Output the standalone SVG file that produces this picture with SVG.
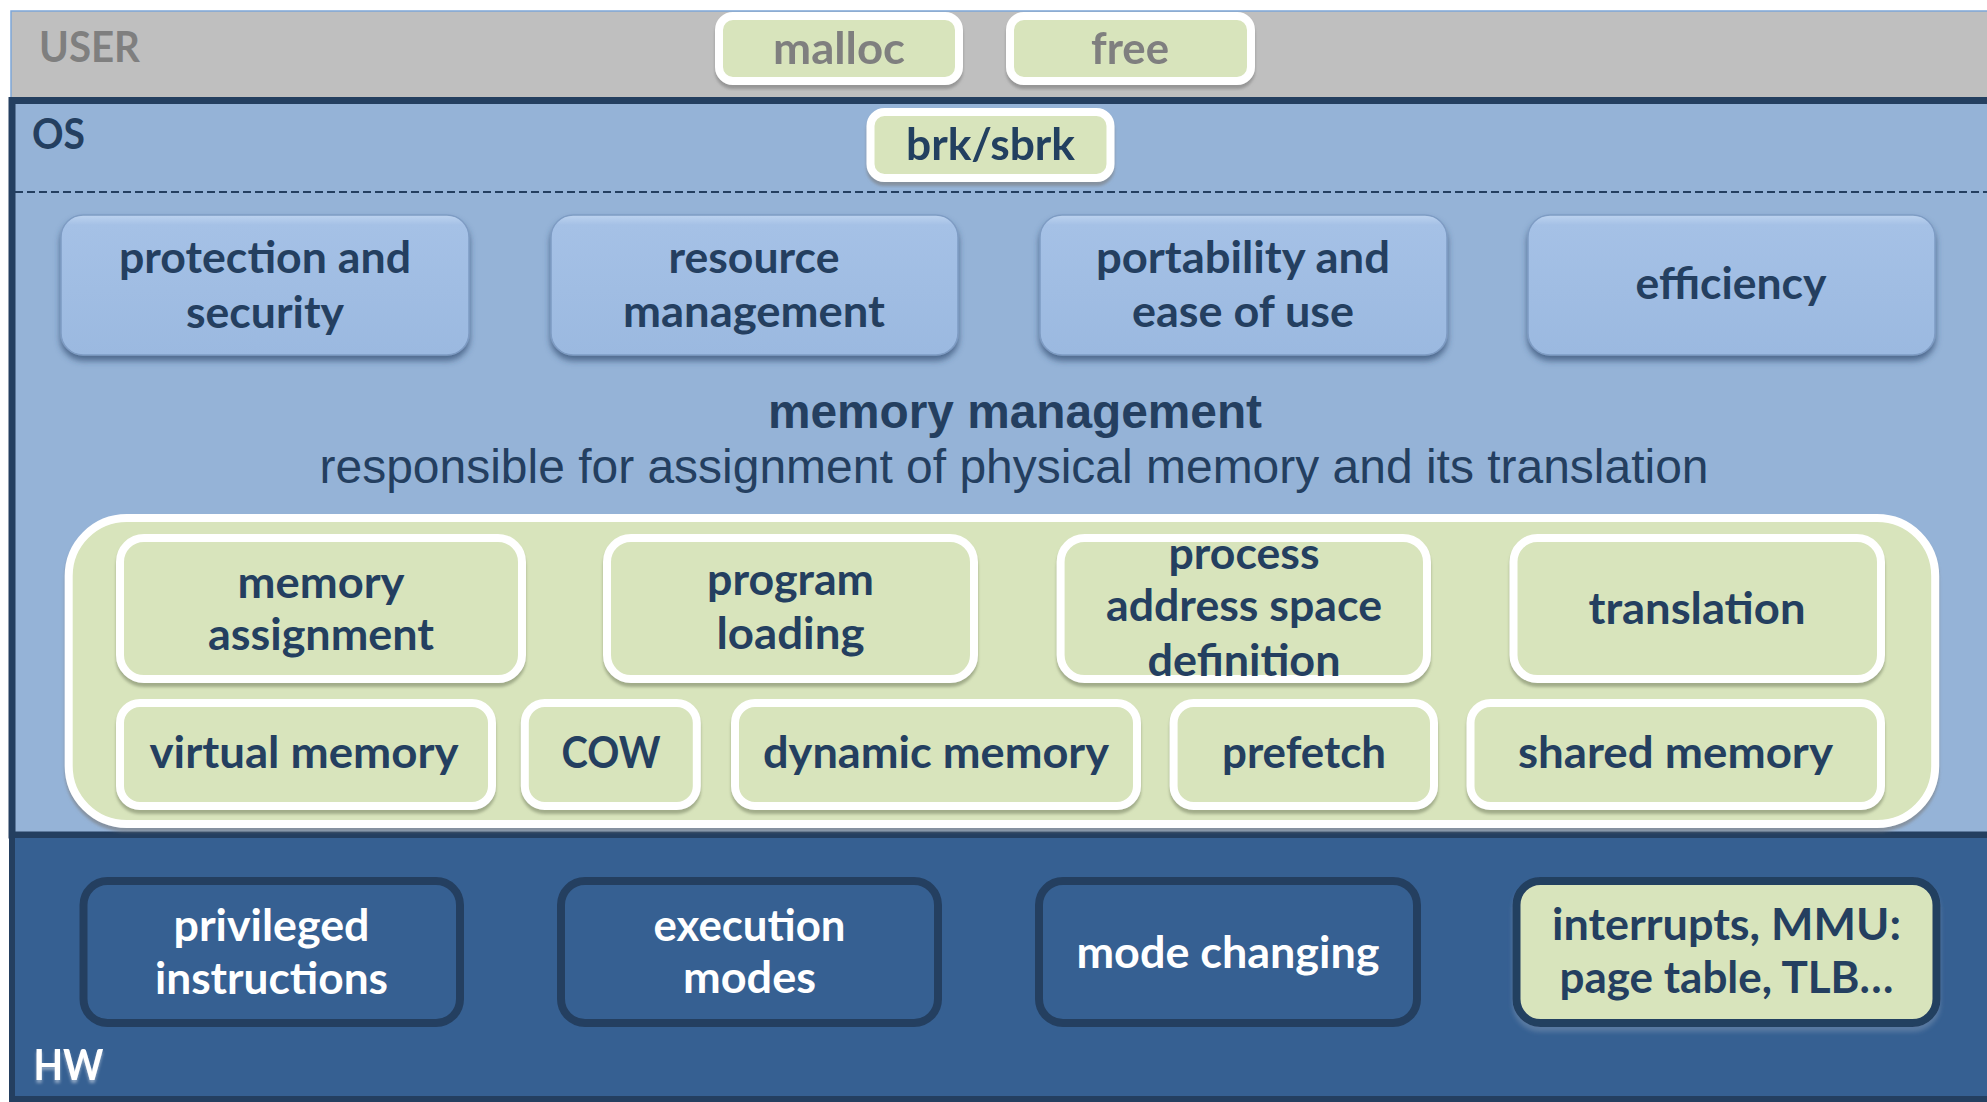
<svg xmlns="http://www.w3.org/2000/svg" width="1987" height="1102" viewBox="0 0 1987 1102">
<defs>
<style>
.b{font-family:Lato,"Open Sans","DejaVu Sans",sans-serif;font-weight:700;font-size:43.5px;text-anchor:middle}
.dk{fill:#243F60}
.gy{fill:#7F7F7F}
.wt{fill:#FFFFFF}
.lbl{font-family:Lato,"Open Sans",sans-serif;font-weight:700;font-size:42.5px}
.ar{font-family:"Liberation Sans",Arial,sans-serif;font-size:48px;text-anchor:middle;fill:#243F60}
.gbox{fill:#D8E4BC;stroke:#FFFFFF;stroke-width:8}
.bbox{fill:url(#bg);stroke:#7E9CC4;stroke-width:1.5}
.hbox{fill:#366092;stroke:#243F60;stroke-width:8}
</style>
<linearGradient id="bg" x1="0" y1="0" x2="0" y2="1">
<stop offset="0" stop-color="#BDD3EF"/>
<stop offset="0.07" stop-color="#A5C1E6"/>
<stop offset="1" stop-color="#9BB9E0"/>
</linearGradient>
<filter id="shG" x="-5%" y="-10%" width="110%" height="125%">
<feDropShadow dx="0" dy="4" stdDeviation="1.5" flood-color="#8E9978" flood-opacity="0.75"/>
</filter>
<filter id="shW" x="-5%" y="-10%" width="110%" height="125%">
<feDropShadow dx="0" dy="4" stdDeviation="1.5" flood-color="#7A7A7A" flood-opacity="0.6"/>
</filter>
<filter id="shB" x="-5%" y="-10%" width="110%" height="130%">
<feDropShadow dx="0" dy="5" stdDeviation="3" flood-color="#2E4A6E" flood-opacity="0.7"/>
</filter>
<filter id="shH" x="-5%" y="-10%" width="110%" height="125%">
<feDropShadow dx="0" dy="5" stdDeviation="2" flood-color="#5C7CA3" flood-opacity="0.9"/>
</filter>
<filter id="shT" x="-10%" y="-10%" width="130%" height="140%">
<feDropShadow dx="0" dy="3" stdDeviation="1.5" flood-color="#A0B4CC" flood-opacity="0.8"/>
</filter>
</defs>

<g id="layer-user">
<rect x="11" y="11" width="1990" height="92" fill="#BFBFBF" stroke="#7EA6D8" stroke-width="1.5"/>
<text class="lbl gy" x="39" y="62" textLength="101" lengthAdjust="spacingAndGlyphs">USER</text>
</g>
<g id="layer-os">
<rect x="12" y="100.5" width="1990" height="734.5" fill="#95B3D7" stroke="#243F60" stroke-width="7"/>
<text class="lbl dk" x="32" y="148.5" textLength="53" lengthAdjust="spacingAndGlyphs">OS</text>
</g>
<g id="layer-hw">
<rect x="12" y="835" width="1990" height="264" fill="#366092" stroke="#243F60" stroke-width="6"/>
<text class="lbl wt" x="33.5" y="1079.5" textLength="70" lengthAdjust="spacingAndGlyphs" filter="url(#shT)">HW</text>
</g>

<g id="connectors">
<line x1="15" y1="192" x2="1987" y2="192" stroke="#243F60" stroke-width="2.2" stroke-dasharray="8 4"/>
</g>

<g id="n-malloc" filter="url(#shW)">
<rect class="gbox" x="719" y="16" width="240" height="65" rx="14"/>
<text class="b gy" x="839" y="64" textLength="132" lengthAdjust="spacingAndGlyphs">malloc</text>
</g>
<g id="n-free" filter="url(#shW)">
<rect class="gbox" x="1010" y="16" width="241" height="65" rx="14"/>
<text class="b gy" x="1130" y="64" textLength="78" lengthAdjust="spacingAndGlyphs">free</text>
</g>
<g id="n-brk" filter="url(#shW)">
<rect class="gbox" x="870.5" y="112" width="240" height="66" rx="14"/>
<text class="b dk" x="990.5" y="160" textLength="169" lengthAdjust="spacingAndGlyphs">brk/sbrk</text>
</g>

<g id="n-protection">
<rect class="bbox" x="61" y="215" width="408" height="140" rx="22" filter="url(#shB)"/>
<text class="b dk" x="265" y="273" textLength="292" lengthAdjust="spacingAndGlyphs">protection and</text>
<text class="b dk" x="265" y="328" textLength="158" lengthAdjust="spacingAndGlyphs">security</text>
</g>
<g id="n-resource">
<rect class="bbox" x="551" y="215" width="407" height="140" rx="22" filter="url(#shB)"/>
<text class="b dk" x="754" y="273" textLength="171" lengthAdjust="spacingAndGlyphs">resource</text>
<text class="b dk" x="754" y="327" textLength="262" lengthAdjust="spacingAndGlyphs">management</text>
</g>
<g id="n-portability">
<rect class="bbox" x="1040" y="215" width="407" height="140" rx="22" filter="url(#shB)"/>
<text class="b dk" x="1243" y="273" textLength="294" lengthAdjust="spacingAndGlyphs">portability and</text>
<text class="b dk" x="1243" y="327" textLength="222" lengthAdjust="spacingAndGlyphs">ease of use</text>
</g>
<g id="n-efficiency">
<rect class="bbox" x="1528" y="215" width="407" height="140" rx="22" filter="url(#shB)"/>
<text class="b dk" x="1731" y="299" textLength="191" lengthAdjust="spacingAndGlyphs">efficiency</text>
</g>

<g id="title">
<text class="ar" x="1015" y="428" font-weight="700" textLength="494" lengthAdjust="spacingAndGlyphs">memory management</text>
<text class="ar" x="1014" y="483" textLength="1389" lengthAdjust="spacingAndGlyphs">responsible for assignment of physical memory and its translation</text>
</g>

<g id="n-mm-container">
<rect x="68.7" y="518" width="1866.5" height="306" rx="58" fill="#D8E4BC" stroke="#FFFFFF" stroke-width="8" filter="url(#shW)"/>
</g>
<g id="n-memory-assignment">
<rect class="gbox" x="120" y="538" width="402" height="141" rx="24" filter="url(#shG)"/>
<text class="b dk" x="321" y="598" textLength="167" lengthAdjust="spacingAndGlyphs">memory</text>
<text class="b dk" x="321" y="650" textLength="226" lengthAdjust="spacingAndGlyphs">assignment</text>
</g>
<g id="n-program-loading">
<rect class="gbox" x="607" y="538" width="367" height="141" rx="24" filter="url(#shG)"/>
<text class="b dk" x="790.5" y="595" textLength="167" lengthAdjust="spacingAndGlyphs">program</text>
<text class="b dk" x="790.5" y="649" textLength="148" lengthAdjust="spacingAndGlyphs">loading</text>
</g>
<g id="n-process-address">
<rect class="gbox" x="1060.6" y="538" width="366.4" height="141" rx="24" filter="url(#shG)"/>
<text class="b dk" x="1244" y="569" textLength="151" lengthAdjust="spacingAndGlyphs">process</text>
<text class="b dk" x="1244" y="621" textLength="276" lengthAdjust="spacingAndGlyphs">address space</text>
<text class="b dk" x="1244" y="676" textLength="193" lengthAdjust="spacingAndGlyphs">definition</text>
</g>
<g id="n-translation">
<rect class="gbox" x="1513.5" y="538" width="367.5" height="141" rx="24" filter="url(#shG)"/>
<text class="b dk" x="1697" y="624" textLength="217" lengthAdjust="spacingAndGlyphs">translation</text>
</g>
<g id="n-virtual-memory">
<rect class="gbox" x="120" y="703" width="372" height="103" rx="20" filter="url(#shG)"/>
<text class="b dk" x="304" y="768" textLength="309" lengthAdjust="spacingAndGlyphs">virtual memory</text>
</g>
<g id="n-cow">
<rect class="gbox" x="524.8" y="703" width="172" height="103" rx="20" filter="url(#shG)"/>
<text class="b dk" x="611" y="768" textLength="99" lengthAdjust="spacingAndGlyphs">COW</text>
</g>
<g id="n-dynamic-memory">
<rect class="gbox" x="735" y="703" width="402" height="103" rx="20" filter="url(#shG)"/>
<text class="b dk" x="936" y="768" textLength="346" lengthAdjust="spacingAndGlyphs">dynamic memory</text>
</g>
<g id="n-prefetch">
<rect class="gbox" x="1173.6" y="703" width="260.4" height="103" rx="20" filter="url(#shG)"/>
<text class="b dk" x="1304" y="768" textLength="164" lengthAdjust="spacingAndGlyphs">prefetch</text>
</g>
<g id="n-shared-memory">
<rect class="gbox" x="1470.5" y="703" width="410.5" height="103" rx="20" filter="url(#shG)"/>
<text class="b dk" x="1675.5" y="768" textLength="315" lengthAdjust="spacingAndGlyphs">shared memory</text>
</g>

<g id="n-privileged">
<rect class="hbox" x="83.5" y="881" width="376.5" height="142" rx="24"/>
<text class="b wt" x="271.5" y="941" textLength="196" lengthAdjust="spacingAndGlyphs">privileged</text>
<text class="b wt" x="271.5" y="994" textLength="233" lengthAdjust="spacingAndGlyphs">instructions</text>
</g>
<g id="n-execution">
<rect class="hbox" x="561" y="881" width="377" height="142" rx="24"/>
<text class="b wt" x="749.5" y="941" textLength="192" lengthAdjust="spacingAndGlyphs">execution</text>
<text class="b wt" x="749.5" y="993" textLength="133" lengthAdjust="spacingAndGlyphs">modes</text>
</g>
<g id="n-mode-changing">
<rect class="hbox" x="1039" y="881" width="378" height="142" rx="24"/>
<text class="b wt" x="1228" y="968" textLength="303" lengthAdjust="spacingAndGlyphs">mode changing</text>
</g>
<g id="n-interrupts">
<rect x="1516.5" y="881" width="420" height="142" rx="24" fill="#D8E4BC" stroke="#243F60" stroke-width="8" filter="url(#shH)"/>
<text class="b dk" x="1726.5" y="940" textLength="349" lengthAdjust="spacingAndGlyphs">interrupts, MMU:</text>
<text class="b dk" x="1726.5" y="993" textLength="334" lengthAdjust="spacingAndGlyphs">page table, TLB…</text>
</g>
</svg>
